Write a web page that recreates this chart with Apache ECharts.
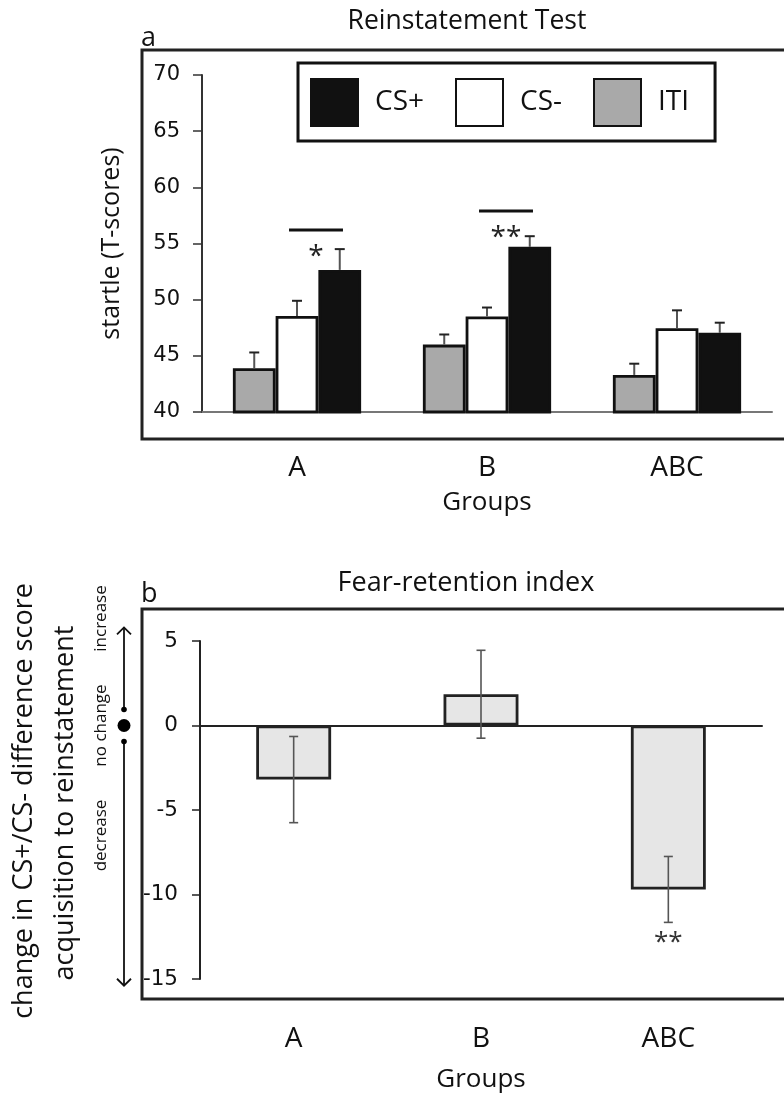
<!DOCTYPE html>
<html>
<head>
<meta charset="utf-8">
<script src="https://cdn.jsdelivr.net/npm/echarts@6/dist/echarts.min.js"></script>
<style>
html,body{margin:0;padding:0;background:#fff;}
#chart{width:784px;height:1094px;}
</style>
</head>
<body>
<div id="chart"></div>
<script>
// ---- data ----
const categories = ['A', 'B', 'ABC'];
const legendNames = ['CS+', 'CS-', 'ITI'];
const itiMean = [43.9, 46.0, 43.3];
const itiErr = [1.4, 0.9, 1.0];
const csMinusMean = [48.55, 48.5, 47.45];
const csMinusErr = [1.35, 0.8, 1.6];
const csPlusMean = [52.65, 54.7, 47.05];
const csPlusErr = [1.85, 0.95, 0.9];
const sigGroups = [0, 1];
const sigLevel = [56.2, 57.9];
const sigLabels = ['*', '**'];
const fearIndex = [-3.2, 1.85, -9.7];
const fearErr = [2.55, 2.6, 1.95];
const fearSigGroups = [2];
const fearSigLabels = ['**'];

const SANS = '"Open Sans", "Noto Sans", sans-serif';
const TICKF = '"DejaVu Sans", "Liberation Sans", sans-serif';
const BARW = 0.225;

const chart = echarts.init(document.getElementById('chart'), null, {renderer: 'canvas'});

const errTopData = [];
[itiMean, csMinusMean, csPlusMean].forEach(function (arr, k) {
  const errs = [itiErr, csMinusErr, csPlusErr][k];
  arr.forEach(function (v, i) { errTopData.push([i, v, errs[i], k]); });
});
const sigData = sigGroups.map(function (g, j) { return [g, sigLevel[j], sigLabels[j]]; });
const fearErrData = fearIndex.map(function (v, i) { return [i, v, fearErr[i]]; });
const fearSigData = fearSigGroups.map(function (g, j) { return [g, fearIndex[g] - fearErr[g], fearSigLabels[j]]; });

const option = {
  animation: false,
  backgroundColor: '#fff',
  legend: {
    data: legendNames,
    left: 298, top: 63,
    orient: 'horizontal',
    icon: 'rect',
    itemWidth: 47, itemHeight: 47, itemGap: 31,
    padding: [15, 26, 14, 12],
    borderColor: '#111', borderWidth: 3,
    textStyle: {fontFamily: SANS, fontSize: 28, color: '#111', padding: [0, 0, 0, 12]},
    selectedMode: false
  },
  grid: [
    {left: 202, top: 75, width: 570, height: 337},
    {left: 200, top: 641, width: 562, height: 342}
  ],
  xAxis: [
    {
      type: 'category', gridIndex: 0, data: categories,
      axisLine: {lineStyle: {color: '#777', width: 2}},
      axisTick: {length: 8, lineStyle: {color: '#333', width: 1.5}},
      axisLabel: {margin: 42, fontFamily: SANS, fontSize: 28, color: '#111'},
      name: 'Groups', nameLocation: 'middle', nameGap: 78,
      nameTextStyle: {fontFamily: SANS, fontSize: 26, color: '#111'}
    },
    {
      type: 'category', gridIndex: 1, data: categories, position: 'bottom',
      axisLine: {show: false, onZero: false},
      axisTick: {show: false},
      axisLabel: {margin: 46, fontFamily: SANS, fontSize: 28, color: '#111'},
      name: 'Groups', nameLocation: 'middle', nameGap: 88,
      nameTextStyle: {fontFamily: SANS, fontSize: 26, color: '#111'}
    },
    {
      type: 'category', gridIndex: 1, data: categories, position: 'bottom',
      axisLine: {show: true, onZero: true, lineStyle: {color: '#222', width: 2}},
      axisTick: {length: 8, lineStyle: {color: '#222', width: 1.5}},
      axisLabel: {show: false}
    }
  ],
  yAxis: [
    {
      type: 'value', gridIndex: 0, min: 40, max: 70, interval: 5,
      splitLine: {show: false},
      axisLine: {show: true, lineStyle: {color: '#333', width: 2}},
      axisTick: {show: true, length: 9, lineStyle: {color: '#333', width: 1.5}},
      axisLabel: {margin: 22, fontFamily: TICKF, fontSize: 21, color: '#111'},
      name: 'startle (T-scores)', nameLocation: 'middle', nameGap: 78,
      nameTextStyle: {fontFamily: SANS, fontSize: 25, color: '#111'}
    },
    {
      type: 'value', gridIndex: 1, min: -15, max: 5, interval: 5,
      splitLine: {show: false},
      axisLine: {show: true, lineStyle: {color: '#222', width: 2}},
      axisTick: {show: true, length: 8, lineStyle: {color: '#222', width: 1.5}},
      axisLabel: {margin: 22, fontFamily: TICKF, fontSize: 21.5, color: '#111'}
    }
  ],
  series: [
    {
      name: 'ITI', type: 'bar', xAxisIndex: 0, yAxisIndex: 0, data: itiMean,
      barWidth: (BARW * 100) + '%', barGap: '0%',
      itemStyle: {color: '#a9a9a9', borderColor: '#111', borderWidth: 2.8}
    },
    {
      name: 'CS-', type: 'bar', xAxisIndex: 0, yAxisIndex: 0, data: csMinusMean,
      barWidth: (BARW * 100) + '%', barGap: '0%',
      itemStyle: {color: '#ffffff', borderColor: '#111', borderWidth: 2.8}
    },
    {
      name: 'CS+', type: 'bar', xAxisIndex: 0, yAxisIndex: 0, data: csPlusMean,
      barWidth: (BARW * 100) + '%', barGap: '0%',
      itemStyle: {color: '#111111', borderColor: '#111111', borderWidth: 2.8}
    },
    {
      type: 'custom', xAxisIndex: 0, yAxisIndex: 0, data: errTopData, z: 5,
      renderItem: function (params, api) {
        const cat = api.value(0), mean = api.value(1), err = api.value(2), k = api.value(3);
        const base = api.coord([cat, mean]);
        const top = api.coord([cat, mean + err]);
        const band = api.size([1, 0])[0];
        const x = base[0] + (k - 1) * band * BARW;
        return {type: 'group', children: [
          {type: 'line', shape: {x1: x, y1: base[1], x2: x, y2: top[1]}, style: {stroke: '#555', lineWidth: 2}},
          {type: 'line', shape: {x1: x - 5, y1: top[1], x2: x + 5, y2: top[1]}, style: {stroke: '#222', lineWidth: 2}}
        ]};
      }
    },
    {
      type: 'custom', xAxisIndex: 0, yAxisIndex: 0, data: sigData, z: 5,
      renderItem: function (params, api) {
        const cat = api.value(0), lvl = api.value(1);
        const p = api.coord([cat, lvl]);
        const band = api.size([1, 0])[0];
        const lab = sigData[params.dataIndex][2];
        return {type: 'group', children: [
          {type: 'line', shape: {x1: p[0] - band * 0.042, y1: p[1], x2: p[0] + band * 0.242, y2: p[1]}, style: {stroke: '#111', lineWidth: 3}},
          {type: 'text', x: p[0] + band * 0.1, y: p[1] + 27, style: {text: lab, fontFamily: SANS, fontSize: 28, fill: '#222', align: 'center', verticalAlign: 'middle'}}
        ]};
      }
    },
    {
      name: 'Fear', type: 'bar', xAxisIndex: 1, yAxisIndex: 1, data: fearIndex,
      barWidth: '40%',
      itemStyle: {color: '#e6e6e6', borderColor: '#222', borderWidth: 2.8}
    },
    {
      type: 'custom', xAxisIndex: 1, yAxisIndex: 1, data: fearErrData, z: 5,
      renderItem: function (params, api) {
        const cat = api.value(0), mean = api.value(1), err = api.value(2);
        const hi = api.coord([cat, mean + err]);
        const lo = api.coord([cat, mean - err]);
        const x = hi[0];
        return {type: 'group', children: [
          {type: 'line', shape: {x1: x, y1: hi[1], x2: x, y2: lo[1]}, style: {stroke: '#555', lineWidth: 1.6}},
          {type: 'line', shape: {x1: x - 4.5, y1: hi[1], x2: x + 4.5, y2: hi[1]}, style: {stroke: '#555', lineWidth: 1.6}},
          {type: 'line', shape: {x1: x - 4.5, y1: lo[1], x2: x + 4.5, y2: lo[1]}, style: {stroke: '#555', lineWidth: 1.6}}
        ]};
      }
    },
    {
      type: 'custom', xAxisIndex: 1, yAxisIndex: 1, data: fearSigData, z: 5,
      renderItem: function (params, api) {
        const p = api.coord([api.value(0), api.value(1)]);
        const lab = fearSigData[params.dataIndex][2];
        return {type: 'text', x: p[0], y: p[1] + 20, style: {text: lab, fontFamily: SANS, fontSize: 26, fill: '#333', align: 'center', verticalAlign: 'middle'}};
      }
    }
  ]
};
chart.setOption(option);

// decorations tied to axis positions
const y0 = chart.convertToPixel({yAxisIndex: 1}, 0);
const yTopArrow = chart.convertToPixel({yAxisIndex: 1}, 5.8);
const yBotArrow = chart.convertToPixel({yAxisIndex: 1}, -15.4);
const ax = 124;
const gfx = [
  {type: 'rect', shape: {x: 142, y: 50, width: 700, height: 389}, style: {fill: 'none', stroke: '#222', lineWidth: 3}, z: -1},
  {type: 'rect', shape: {x: 142, y: 609, width: 700, height: 390}, style: {fill: 'none', stroke: '#222', lineWidth: 3}, z: -1},
  {type: 'text', x: 467, y: 21, style: {text: 'Reinstatement Test', fontFamily: SANS, fontSize: 26.5, fill: '#111', align: 'center', verticalAlign: 'middle'}},
  {type: 'text', x: 466, y: 583, style: {text: 'Fear-retention index', fontFamily: SANS, fontSize: 27, fill: '#111', align: 'center', verticalAlign: 'middle'}},
  {type: 'text', x: 141, y: 38, style: {text: 'a', fontFamily: SANS, fontSize: 27, fill: '#111', align: 'left', verticalAlign: 'middle'}},
  {type: 'text', x: 141, y: 594, style: {text: 'b', fontFamily: SANS, fontSize: 27, fill: '#111', align: 'left', verticalAlign: 'middle'}},
  {type: 'text', x: 24, y: 801, rotation: Math.PI / 2, style: {text: 'change in CS+/CS- difference score', fontFamily: SANS, fontSize: 27, fill: '#111', align: 'center', verticalAlign: 'middle'}},
  {type: 'text', x: 65, y: 803, rotation: Math.PI / 2, style: {text: 'acquisition to reinstatement', fontFamily: SANS, fontSize: 27, fill: '#111', align: 'center', verticalAlign: 'middle'}},
  {type: 'text', x: 101, y: y0 - 107, rotation: Math.PI / 2, style: {text: 'increase', fontFamily: SANS, fontSize: 17, fill: '#111', align: 'center', verticalAlign: 'middle'}},
  {type: 'text', x: 101, y: y0, rotation: Math.PI / 2, style: {text: 'no change', fontFamily: SANS, fontSize: 17, fill: '#111', align: 'center', verticalAlign: 'middle'}},
  {type: 'text', x: 101, y: y0 + 110, rotation: Math.PI / 2, style: {text: 'decrease', fontFamily: SANS, fontSize: 17, fill: '#111', align: 'center', verticalAlign: 'middle'}},
  {type: 'line', shape: {x1: ax, y1: yTopArrow, x2: ax, y2: y0 - 16}, style: {stroke: '#111', lineWidth: 1.8}},
  {type: 'line', shape: {x1: ax, y1: y0 + 16, x2: ax, y2: yBotArrow}, style: {stroke: '#111', lineWidth: 1.8}},
  {type: 'polyline', shape: {points: [[ax - 7, yTopArrow + 7], [ax, yTopArrow], [ax + 7, yTopArrow + 7]]}, style: {stroke: '#111', lineWidth: 1.8, fill: 'none'}},
  {type: 'polyline', shape: {points: [[ax - 7, yBotArrow - 7], [ax, yBotArrow], [ax + 7, yBotArrow - 7]]}, style: {stroke: '#111', lineWidth: 1.8, fill: 'none'}},
  {type: 'circle', shape: {cx: ax, cy: y0, r: 6.5}, style: {fill: '#000'}},
  {type: 'circle', shape: {cx: ax, cy: y0 - 16, r: 2.8}, style: {fill: '#000'}},
  {type: 'circle', shape: {cx: ax, cy: y0 + 16, r: 2.8}, style: {fill: '#000'}}
];
chart.setOption({graphic: gfx});
</script>
</body>
</html>
